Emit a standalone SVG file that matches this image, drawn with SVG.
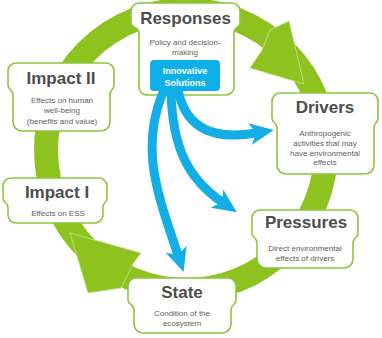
<svg xmlns="http://www.w3.org/2000/svg" width="382" height="338" viewBox="0 0 382 338">
<style>
.box{fill:#fff;stroke:#8cc63f;stroke-width:1.6}
.ttl{font-family:"Liberation Sans",Arial,sans-serif;font-weight:bold;font-size:17px;fill:#4d4d4d;text-anchor:middle}
.txt{font-family:"Liberation Sans",Arial,sans-serif;font-size:8px;fill:#606060;text-anchor:middle}
.inn{font-family:"Liberation Sans",Arial,sans-serif;font-weight:bold;font-size:9px;fill:#fff;text-anchor:middle}
.ring{fill:none;stroke:#8dc21f;stroke-width:24}
.ghead{fill:#8dc21f;stroke:#c9e29a;stroke-width:0.8}
.blue{fill:none;stroke:#14aee6;stroke-width:9}
</style>
<defs>
<marker id="bh" markerUnits="userSpaceOnUse" viewBox="0 0 24 22" refX="6" refY="11" markerWidth="24" markerHeight="22" orient="auto">
<path d="M0,0 L24,11 L0,22 L6,11 Z" fill="#14aee6"/>
</marker>
</defs>
<g id="ring">
<circle class="ring" cx="186" cy="150" r="140"/>
<polygon class="ghead" points="270,30 289,21 304,84 250,68 262,50"/>
<polygon class="ghead" points="70,233 141,253 133,264 121,288 88,293"/>
</g>
<g id="responses">
<path class="box" d="M139,3 H232 A8,8 0 0 1 240,11 V23 C240,28 234,27 234,33 V87 A8,8 0 0 1 226,95 H147 A8,8 0 0 1 139,87 V33 C139,27 131,28 131,23 V11 A8,8 0 0 1 139,3 Z"/>
<text class="ttl" x="185.5" y="24">Responses</text>
<text class="txt" x="185" y="45">Policy and decision-</text>
<text class="txt" x="185" y="55">making</text>
</g>
<g id="drivers">
<path class="box" d="M280,93 H370 A8,8 0 0 1 378,101 V118 C378,123 374,122 374,128 V165 A9,9 0 0 1 365,174 H286 A9,9 0 0 1 277,165 V128 C277,122 272,123 272,118 V101 A8,8 0 0 1 280,93 Z"/>
<text class="ttl" x="325" y="113">Drivers</text>
<text class="txt" x="325" y="136">Anthropogenic</text>
<text class="txt" x="325" y="146">activities that may</text>
<text class="txt" x="325" y="155.5">have environmental</text>
<text class="txt" x="325" y="165">effects</text>
</g>
<g id="pressures">
<path class="box" d="M260,210 H350 A8,8 0 0 1 358,218 V233 C358,238 353,237 353,243 V259 A9,9 0 0 1 344,268 H266 A9,9 0 0 1 257,259 V243 C257,237 252,238 252,233 V218 A8,8 0 0 1 260,210 Z"/>
<text class="ttl" x="306" y="228">Pressures</text>
<text class="txt" x="305" y="251">Direct environmental</text>
<text class="txt" x="305" y="261">effects of drivers</text>
</g>
<g id="state">
<path class="box" d="M136,278 H228 A8,8 0 0 1 236,286 V300 C236,305 231,304 231,310 V324 A9,9 0 0 1 222,333 H143 A9,9 0 0 1 134,324 V310 C134,304 128,305 128,300 V286 A8,8 0 0 1 136,278 Z"/>
<text class="ttl" x="182" y="298">State</text>
<text class="txt" x="182" y="316">Condition of the</text>
<text class="txt" x="182" y="326">ecosystem</text>
</g>
<g id="impact2">
<path class="box" d="M16,63 H106 A8,8 0 0 1 114,71 V85 C114,90 110,89 110,95 V122 A9,9 0 0 1 101,131 H22 A9,9 0 0 1 13,122 V95 C13,89 8,90 8,85 V71 A8,8 0 0 1 16,63 Z"/>
<text class="ttl" x="61" y="84">Impact II</text>
<text class="txt" x="62" y="103">Effects on human</text>
<text class="txt" x="62" y="113">well-being</text>
<text class="txt" x="62" y="124">(benefits and value)</text>
</g>
<g id="impact1">
<path class="box" d="M11,178 H99 A8,8 0 0 1 107,186 V198 C107,203 103,202 103,207 V215 A8,8 0 0 1 95,223 H16 A8,8 0 0 1 8,215 V207 C8,202 3,203 3,198 V186 A8,8 0 0 1 11,178 Z"/>
<text class="ttl" x="57" y="198">Impact I</text>
<text class="txt" x="58" y="216">Effects on ESS</text>
</g>
<g id="connectors">
<path class="blue" marker-end="url(#bh)" d="M178,90 C186,130 215,140 256,133"/>
<path class="blue" marker-end="url(#bh)" d="M171,90 C172,150 190,180 222,202"/>
<path class="blue" marker-end="url(#bh)" d="M164,90 C138,150 160,200 178,255"/>
</g>
<g id="innovative">
<rect x="150" y="60" width="70" height="31" rx="4" fill="#0fb0ea"/>
<text class="inn" x="185" y="74">Innovative</text>
<text class="inn" x="185" y="86">Solutions</text>
</g>
</svg>
